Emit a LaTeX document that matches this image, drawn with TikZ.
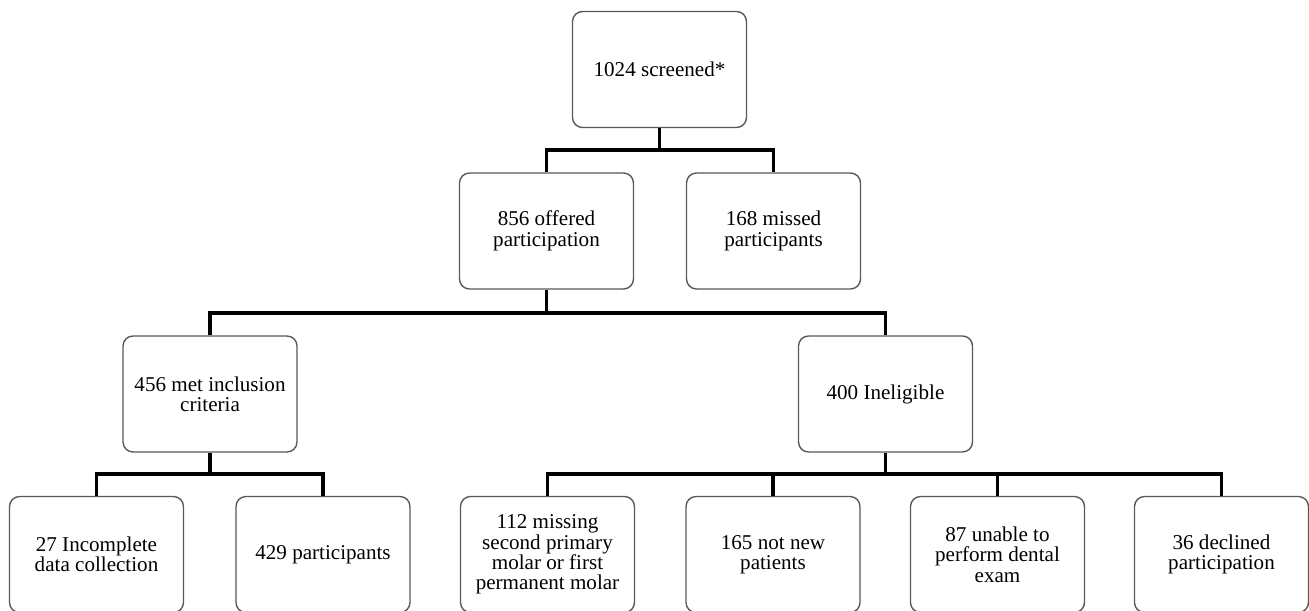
\documentclass[tikz,border=0pt]{standalone}
\usepackage{fontspec}
\setmainfont{Liberation Serif}
\begin{document}
\begin{tikzpicture}[x=0.02cm, y=-0.02cm, font=\fontsize{12}{11.6}\selectfont,
    box/.style={draw=black!65, line width=0.8pt, rounded corners=0.2cm, fill=white,
      minimum width=3.48cm, minimum height=2.32cm, align=center, inner sep=2pt},
    link/.style={line width=2.2pt, line join=miter}]
  \useasboundingbox (0,0) rectangle (1309,611);
  \node[box] (scr) at (659.5,69.5) {1024 screened*};
  \node[box] (off) at (546.5,231) {856 offered\\participation};
  \node[box] (mis) at (773.5,231) {168 missed\\participants};
  \node[box] (met) at (210,394) {456 met inclusion\\criteria};
  \node[box] (inel) at (885.5,394) {400 Ineligible};
  \node[box] (inc) at (96.5,554.5) {27 Incomplete\\data collection};
  \node[box] (par) at (323,554.5) {429 participants};
  \node[box] (mol) at (547.5,554.5) {112 missing\\second primary\\molar or first\\permanent molar};
  \node[box] (nnp) at (773,554.5) {165 not new\\patients};
  \node[box] (una) at (997.5,554.5) {87 unable to\\perform dental\\exam};
  \node[box] (dec) at (1221.5,554.5) {36 declined\\participation};
  \draw[link] (scr.south) -- ++(0,22) coordinate (b1);
  \draw[link] (off.north) |- (b1) -| (mis.north);
  \draw[link] (off.south) -- ++(0,23) coordinate (b2);
  \draw[link] (met.north) |- (b2) -| (inel.north);
  \draw[link] (met.south) -- ++(0,21) coordinate (b3);
  \draw[link] (inc.north) |- (b3) -| (par.north);
  \draw[link] (inel.south) -- ++(0,21) coordinate (b4);
  \draw[link] (mol.north) |- (b4) -| (dec.north);
  \draw[link] (nnp.north) -- (nnp.north |- b4);
  \draw[link] (una.north) -- (una.north |- b4);
\end{tikzpicture}
\end{document}
